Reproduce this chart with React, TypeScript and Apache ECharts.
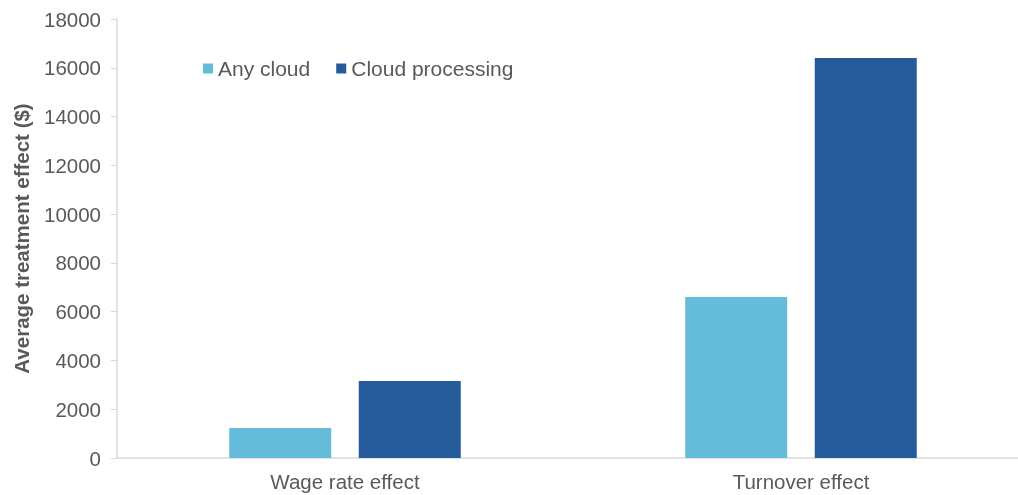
import React, { useEffect, useRef } from "react";
import * as echarts from "echarts";

const categories = ["Wage rate effect", "Turnover effect"];
const anyCloud = [1230, 6600];
const cloudProcessing = [3160, 16400];
const seriesNames = ["Any cloud", "Cloud processing"];

export default function App() {
  const ref = useRef<HTMLDivElement>(null);
  useEffect(() => {
    const chart = echarts.init(ref.current!, null, { renderer: "svg" });
    const font = "'Liberation Sans', Arial, sans-serif";
    chart.setOption({
      animation: false,
      textStyle: { fontFamily: font },
      grid: {
        left: 117,
        width: 912,
        top: 19,
        bottom: 37,
        containLabel: false,
        outerBoundsMode: "none",
      },
      legend: {
        left: 198,
        top: 53,
        itemWidth: 10,
        itemHeight: 10,
        itemGap: 26,
        icon: "rect",
        textStyle: { fontSize: 21, color: "#595959", fontFamily: font },
        data: seriesNames,
      },
      xAxis: {
        type: "category",
        data: categories,
        axisLine: { lineStyle: { color: "#d9d9d9", width: 1.5 } },
        axisTick: { show: false },
        axisLabel: { fontSize: 20.5, color: "#595959", margin: 13, fontFamily: font },
      },
      yAxis: {
        type: "value",
        min: 0,
        max: 18000,
        interval: 2000,
        name: "Average treatment effect ($)",
        nameLocation: "middle",
        nameGap: 85,
        nameTextStyle: { fontSize: 20.5, fontWeight: "bold", color: "#595959", fontFamily: font },
        axisLine: { show: true, lineStyle: { color: "#d9d9d9", width: 1.5 } },
        axisTick: { show: true, length: 6, lineStyle: { color: "#d9d9d9" } },
        splitLine: { show: false },
        axisLabel: {
          fontSize: 20.5,
          color: "#595959",
          margin: 16,
          fontFamily: font,
          formatter: (v: number) => String(v),
        },
      },
      series: [
        {
          name: seriesNames[0],
          type: "bar",
          data: anyCloud,
          barWidth: 102,
          barGap: "27%",
          itemStyle: { color: "#65bbda" },
        },
        {
          name: seriesNames[1],
          type: "bar",
          data: cloudProcessing,
          barWidth: 102,
          barGap: "27%",
          itemStyle: { color: "#265b9b" },
        },
      ],
    });
    return () => chart.dispose();
  }, []);
  return (
    <div
      ref={ref}
      style={{ position: "fixed", left: 0, top: 0, width: 1018, height: 495 }}
    />
  );
}
